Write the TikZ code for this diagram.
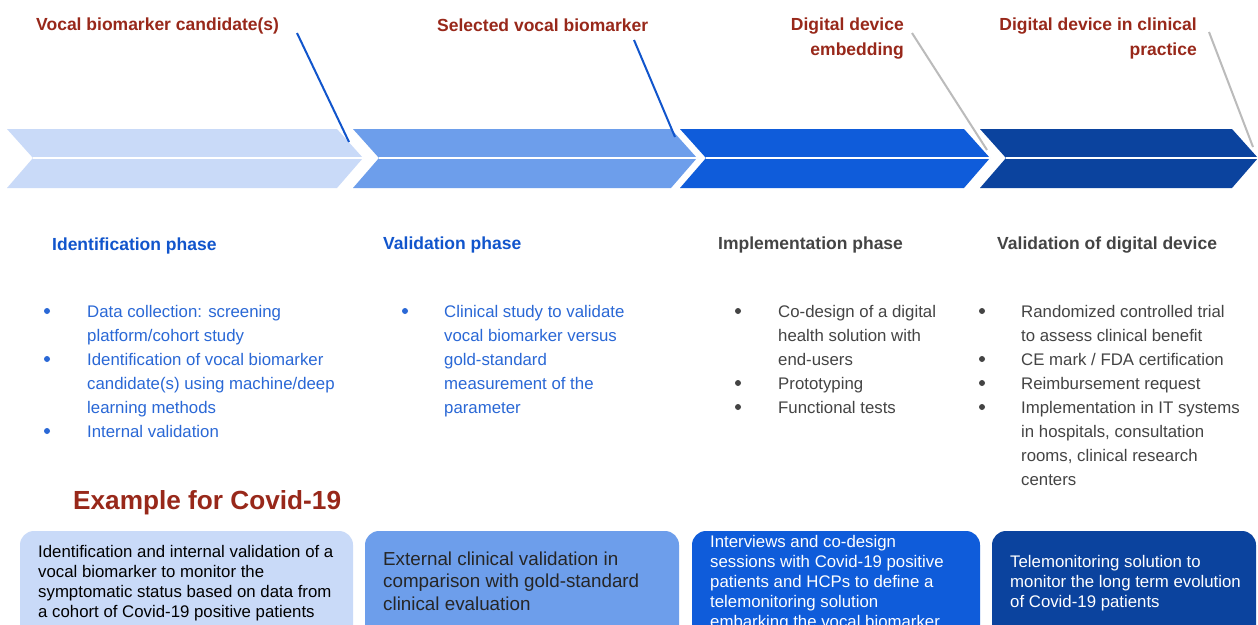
\documentclass[tikz,border=0pt]{standalone}
\usepackage{fontspec}
\setmainfont{Liberation Sans}
\definecolor{cA}{HTML}{C9DAF8}
\definecolor{cB}{HTML}{6D9EEB}
\definecolor{cC}{HTML}{0F5CDA}
\definecolor{cD}{HTML}{0B439E}
\definecolor{berry}{HTML}{98281A}
\definecolor{phaseblue}{HTML}{1155CC}
\definecolor{itemblue}{HTML}{2A68D6}
\definecolor{ink}{HTML}{444444}
\definecolor{leader}{HTML}{BBBBBB}
\tikzset{
  milestone/.style={font=\bfseries\fontsize{17.5}{25}\selectfont, text=berry, inner sep=0pt, align=right},
  phasehead/.style={font=\bfseries\fontsize{17.5}{21}\selectfont, inner sep=0pt, anchor=base west},
  item/.style={font=\fontsize{16.8}{24}\selectfont, inner sep=0pt, anchor=base west, align=left},
  boxtext/.style={font=\fontsize{16.8}{20}\selectfont, inner sep=0pt, anchor=base west, align=left},
  bluelead/.style={draw=phaseblue, line width=2pt},
  greylead/.style={draw=leader, line width=2pt},
  sep/.style={draw=white, line width=1.6pt},
}
% multi-line nodes are placed by the baseline of their last line
\newcommand{\chevron}[3]{% left, tip, colour
  \fill[#3] (#1,129) -- ({#2-26},129) -- (#2,158) -- ({#2-26},188) -- (#1,188) -- ({#1+26},158) -- cycle;
  \draw[sep] ({#1+26},158) -- (#2,158);
}
\begin{document}
\begin{tikzpicture}[x=1pt,y=-1pt]
\useasboundingbox (0,0) rectangle (1258,624);
\fill[white] (0,0) rectangle (1258,624);

% process arrow
\chevron{7}{363}{cA}
\chevron{353}{697}{cB}
\chevron{680}{990}{cC}
\chevron{980}{1258}{cD}

% milestones
\node[milestone, anchor=base west] (m1) at (36,30) {Vocal biomarker candidate(s)};
\node[milestone, anchor=base west] (m2) at (437,31) {Selected vocal biomarker};
\node[milestone, anchor=base east] (m3) at (904,55) {Digital device\\embedding};
\node[milestone, anchor=base east] (m4) at (1197,55) {Digital device in clinical\\practice};

\coordinate (m1a) at (297,33);  \coordinate (m1b) at (349,142);
\coordinate (m2a) at (634,40);  \coordinate (m2b) at (675,137);
\coordinate (m3a) at (912,33);  \coordinate (m3b) at (987,150);
\coordinate (m4a) at (1209,32); \coordinate (m4b) at (1253,147);
\draw[bluelead] (m1a) -- (m1b);
\draw[bluelead] (m2a) -- (m2b);
\draw[greylead] (m3a) -- (m3b);
\draw[greylead] (m4a) -- (m4b);

% phase headings
\node[phasehead, text=phaseblue] (h1) at (52,250) {Identification phase};
\node[phasehead, text=phaseblue] (h2) at (383,249) {Validation phase};
\node[phasehead, text=ink] (h3) at (718,249) {Implementation phase};
\node[phasehead, text=ink] (h4) at (997,249) {Validation of digital device};

% identification and validation phases
\begin{scope}[text=itemblue]
\node[item] (i1) at (87,341) {Data collection: screening\\platform/cohort study};
\node[item] (i2) at (87,413) {Identification of vocal biomarker\\candidate(s) using machine/deep\\learning methods};
\node[item] (i3) at (87,437) {Internal validation};
\node[item] (v1) at (444,413) {Clinical study to validate\\vocal biomarker versus\\gold-standard\\measurement of the\\parameter};
\end{scope}
\foreach \y in {311,359,431} \fill[itemblue] (47,\y) circle (3);
\fill[itemblue] (405,311) circle (3);

% implementation phase and device validation
\begin{scope}[text=ink]
\node[item] (p1) at (778,365) {Co-design of a digital\\health solution with\\end-users};
\node[item] (p2) at (778,389) {Prototyping};
\node[item] (p3) at (778,413) {Functional tests};
\node[item] (d1) at (1021,341) {Randomized controlled trial\\to assess clinical benefit};
\node[item] (d2) at (1021,365) {CE mark / FDA certification};
\node[item] (d3) at (1021,389) {Reimbursement request};
\node[item] (d4) at (1021,485) {Implementation in IT systems\\in hospitals, consultation\\rooms, clinical research\\centers};
\end{scope}
\foreach \y in {311,383,407} \fill[ink] (738,\y) circle (3);
\foreach \y in {311,359,383,407} \fill[ink] (982,\y) circle (3);

% Covid-19 example
\node[inner sep=0pt, anchor=base west, text=berry, font=\bfseries\fontsize{26.2}{30}\selectfont] (ex) at (73,509) {Example for Covid-19};

\fill[cA, rounded corners=14pt] (20,531) rectangle (353,660);
\fill[cB, rounded corners=14pt] (365,531) rectangle (679,660);
\fill[cC, rounded corners=14pt] (692,531) rectangle (980,660);
\fill[cD, rounded corners=14pt] (992,531) rectangle (1256,660);

\node[boxtext, text=black] (e1) at (38,617) {Identification and internal validation of a\\vocal biomarker to monitor the\\symptomatic status based on data from\\a cohort of Covid-19 positive patients};
\node[boxtext, text=black!85, font=\fontsize{18.8}{22.5}\selectfont] (e2) at (383,610) {External clinical validation in\\comparison with gold-standard\\clinical evaluation};
\node[boxtext, text=white] (e3) at (710,627) {Interviews and co-design\\sessions with Covid-19 positive\\patients and HCPs to define a\\telemonitoring solution\\embarking the vocal biomarker};
\node[boxtext, text=white] (e4) at (1010,607) {Telemonitoring solution to\\monitor the long term evolution\\of Covid-19 patients};
\end{tikzpicture}
\end{document}
